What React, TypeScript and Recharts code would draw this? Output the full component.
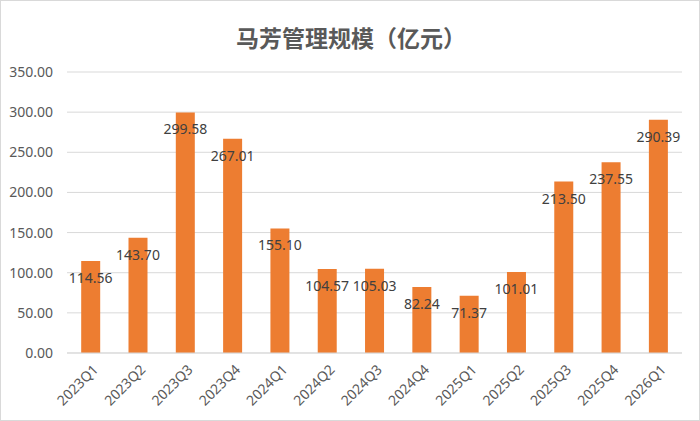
import { BarChart, Bar, XAxis, YAxis, CartesianGrid, LabelList } from "recharts";

const quarters = [
  "2023Q1", "2023Q2", "2023Q3", "2023Q4",
  "2024Q1", "2024Q2", "2024Q3", "2024Q4",
  "2025Q1", "2025Q2", "2025Q3", "2025Q4", "2026Q1",
];
const scale = [
  114.56, 143.7, 299.58, 267.01,
  155.1, 104.57, 105.03, 82.24,
  71.37, 101.01, 213.5, 237.55, 290.39,
];
const yTicks = [0, 50, 100, 150, 200, 250, 300, 350];

const data = quarters.map((q, i) => ({ name: q, value: scale[i] }));

const FONT = "'Noto Sans', 'Noto Sans CJK SC', sans-serif";

function QuarterTick(props: any) {
  const { x, y, payload } = props;
  return (
    <g transform={`translate(${x + 5},${y + 6}) rotate(-45)`}>
      <text x={0} y={0} dy="0.35em" textAnchor="end" fill="#595959" fontSize={14} fontFamily={FONT}>
        {payload.value}
      </text>
    </g>
  );
}

export default function App() {
  return (
    <div
      style={{
        position: "absolute",
        left: 0,
        top: 0,
        width: 700,
        height: 421,
        boxSizing: "border-box",
        border: "1px solid #d9d9d9",
        background: "#fff",
      }}
    >
      <div
        style={{
          position: "absolute",
          top: 21,
          left: 0,
          width: 700,
          textAlign: "center",
          fontFamily: "'Noto Sans CJK SC', sans-serif",
          fontWeight: 700,
          fontSize: 23,
          color: "#595959",
          lineHeight: "30px",
        }}
      >
        马芳管理规模（亿元）
      </div>
      <BarChart
        width={698}
        height={419}
        data={data}
        margin={{ top: 71, right: 17, bottom: 0, left: 0 }}
        barCategoryGap="30%"
        style={{ position: "absolute", left: 0, top: 0 }}
      >
        <CartesianGrid vertical={false} stroke="#d9d9d9" />
        <XAxis
          dataKey="name"
          height={67}
          interval={0}
          tickLine={false}
          axisLine={{ stroke: "#d9d9d9" }}
          tick={<QuarterTick />}
        />
        <YAxis
          width={66}
          domain={[0, 350]}
          ticks={yTicks}
          tickLine={false}
          axisLine={false}
          tickSize={6}
          tickMargin={8}
          tickFormatter={(v: number) => v.toFixed(2)}
          tick={{ fill: "#595959", fontSize: 14, fontFamily: FONT }}
        />
        <Bar dataKey="value" fill="#ED7D31" isAnimationActive={false}>
          <LabelList
            dataKey="value"
            position="insideTop"
            offset={12}
            formatter={(v: number) => v.toFixed(2)}
            fill="#404040"
            fontSize={14}
            fontFamily={FONT}
          />
        </Bar>
      </BarChart>
    </div>
  );
}
